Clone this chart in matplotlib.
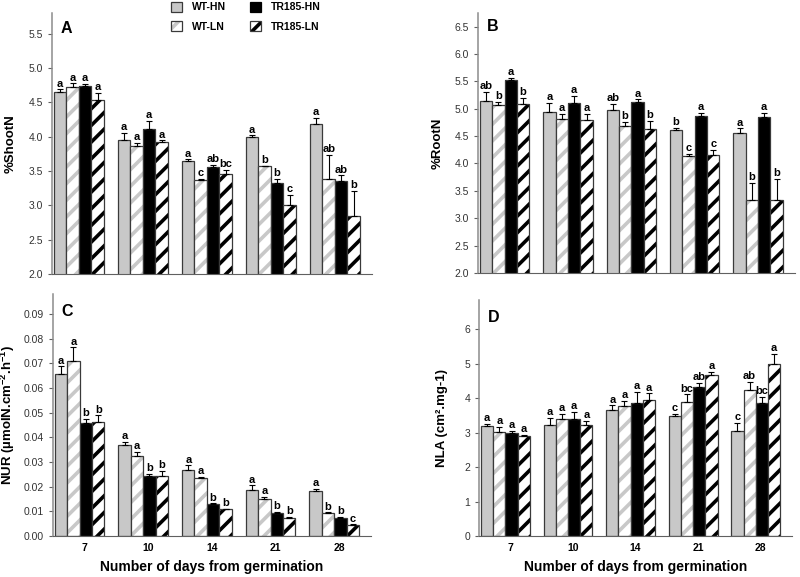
import numpy as np
import matplotlib
matplotlib.use('Agg')
import matplotlib.pyplot as plt
from matplotlib.patches import Patch
from matplotlib.ticker import FormatStrFormatter

plt.rcParams['font.family'] = 'Liberation Sans'
plt.rcParams['mathtext.fontset'] = 'custom'
plt.rcParams['mathtext.rm'] = 'Liberation Sans'
plt.rcParams['mathtext.bf'] = 'Liberation Sans:bold'
plt.rcParams['hatch.linewidth'] = 2.6


## Data (rows: WT-HN, WT-LN, TR185-HN, TR185-LN)
days = ['7', '10', '14', '21', '28']
series = ['WT-HN', 'WT-LN', 'TR185-HN', 'TR185-LN']

shoot_mean = [[4.66, 3.95, 3.65, 3.99, 4.19],
              [4.72, 3.86, 3.37, 3.57, 3.39],
              [4.74, 4.12, 3.56, 3.33, 3.35],
              [4.54, 3.93, 3.46, 3.00, 2.84]]
shoot_err = [[0.03, 0.11, 0.02, 0.03, 0.09],
             [0.06, 0.05, 0.02, 0.01, 0.35],
             [0.03, 0.11, 0.03, 0.06, 0.09],
             [0.10, 0.02, 0.06, 0.15, 0.37]]
shoot_sig = [['a', 'a', 'a', 'a', 'a'],
             ['a', 'a', 'c', 'b', 'ab'],
             ['a', 'a', 'ab', 'b', 'ab'],
             ['a', 'a', 'bc', 'c', 'b']]

root_mean = [[5.15, 4.94, 4.97, 4.62, 4.55],
             [5.06, 4.81, 4.69, 4.13, 3.33],
             [5.52, 5.10, 5.12, 4.87, 4.85],
             [5.09, 4.80, 4.63, 4.16, 3.33]]
root_err = [[0.16, 0.17, 0.12, 0.03, 0.09],
            [0.07, 0.10, 0.07, 0.04, 0.32],
            [0.04, 0.14, 0.05, 0.05, 0.07],
            [0.11, 0.10, 0.15, 0.09, 0.39]]
root_sig = [['ab', 'a', 'ab', 'b', 'a'],
            ['b', 'a', 'b', 'c', 'b'],
            ['a', 'a', 'a', 'a', 'a'],
            ['b', 'a', 'b', 'c', 'b']]

nur_mean = [[0.0658, 0.0368, 0.0267, 0.0186, 0.0181],
            [0.0710, 0.0323, 0.0234, 0.0151, 0.0093],
            [0.0458, 0.0244, 0.0130, 0.0094, 0.0073],
            [0.0463, 0.0245, 0.0108, 0.0075, 0.0044]]
nur_err = [[0.0030, 0.0013, 0.0019, 0.0019, 0.0010],
           [0.0055, 0.0018, 0.0006, 0.0008, 0.0003],
           [0.0016, 0.0008, 0.0003, 0.0004, 0.0005],
           [0.0026, 0.0018, 0.0002, 0.0003, 0.0003]]
nur_sig = [['a', 'a', 'a', 'a', 'a'],
           ['a', 'a', 'a', 'a', 'b'],
           ['b', 'b', 'b', 'b', 'b'],
           ['b', 'b', 'b', 'b', 'c']]

nla_mean = [[3.19, 3.21, 3.67, 3.49, 3.04],
            [3.02, 3.39, 3.76, 3.89, 4.24],
            [2.99, 3.40, 3.87, 4.34, 3.86],
            [2.90, 3.21, 3.94, 4.66, 4.98]]
nla_err = [[0.07, 0.23, 0.12, 0.05, 0.25],
           [0.15, 0.16, 0.16, 0.22, 0.23],
           [0.07, 0.21, 0.31, 0.11, 0.19],
           [0.03, 0.14, 0.20, 0.10, 0.30]]
nla_sig = [['a', 'a', 'a', 'c', 'c'],
           ['a', 'a', 'a', 'bc', 'ab'],
           ['a', 'a', 'a', 'ab', 'bc'],
           ['a', 'a', 'a', 'a', 'a']]

# styles per series
face = ['#c8c8c8', 'white', 'black', 'white']
hatch = [None, '//', None, '//']
hatch_col = [None, '#c8c8c8', None, 'black']
edge = '#3a3a3a'


def panel(ax, mean, err, sig, ylim, yticks, fmt, ylabel, letter, letter_y,
          label_x, bottom):
    x = np.arange(len(days))
    w = 0.195
    for i in range(4):
        pos = x - 0.08 + (i - 1.5) * w
        if hatch[i]:
            ax.bar(pos, mean[i], w, color='white', edgecolor=hatch_col[i],
                   hatch=hatch[i], linewidth=0)
        else:
            ax.bar(pos, mean[i], w, color=face[i], linewidth=0)
        ax.bar(pos, mean[i], w, fill=False, edgecolor=edge, linewidth=0.9)
        ax.errorbar(pos, mean[i], yerr=[np.zeros(len(days)), err[i]],
                    fmt='none', ecolor='black', elinewidth=0.8,
                    capsize=2.2, capthick=0.8)
        for p, m, e, s in zip(pos, mean[i], err[i], sig[i]):
            ax.annotate(s, (p, m + e), xytext=(0, 0.5),
                        textcoords='offset points', ha='center', va='bottom',
                        fontsize=8, fontweight='bold')

    ax.set_xlim(-0.5, 4.5)
    ax.set_ylim(*ylim)
    ax.set_yticks(yticks)
    ax.yaxis.set_major_formatter(FormatStrFormatter(fmt))
    ax.set_xticks(x)
    ax.spines['top'].set_visible(False)
    ax.spines['right'].set_visible(False)
    ax.spines['left'].set_color('#8c8c8c')
    ax.spines['left'].set_linewidth(1.1)
    ax.spines['bottom'].set_color('#606060')
    ax.tick_params(axis='y', direction='out', length=3, width=0.8,
                   color='#606060', labelsize=7.5, labelcolor='#333333')
    ax.tick_params(axis='x', length=0, pad=5)
    if bottom:
        ax.set_xticklabels(days, fontsize=7.5, fontweight='bold')
        ax.set_xlabel('Number of days from germination', fontsize=10,
                      fontweight='bold', labelpad=5)
    else:
        ax.set_xticklabels([])
    ax.set_ylabel(ylabel, fontsize=9.5, fontweight='bold')
    ax.yaxis.set_label_coords(label_x, 0.5)
    ax.text(0.028, letter_y, letter, transform=ax.transAxes, fontsize=11.5,
            fontweight='bold', va='center', ha='left')


fig = plt.figure(figsize=(8, 5.77), dpi=100)
ax_a = fig.add_axes([0.065, 0.525, 0.40, 0.452])
ax_b = fig.add_axes([0.5975, 0.527, 0.396, 0.4506])
ax_c = fig.add_axes([0.066, 0.071, 0.398, 0.419])
ax_d = fig.add_axes([0.599, 0.071, 0.391, 0.409])

panel(ax_a, shoot_mean, shoot_err, shoot_sig, (2.0, 5.8),
      np.arange(2.0, 5.51, 0.5), '%.1f', '%ShootN', 'A', 0.94, -0.112, False)
panel(ax_b, root_mean, root_err, root_sig, (2.0, 6.75),
      np.arange(2.0, 6.51, 0.5), '%.1f', '%RootN', 'B', 0.946, -0.11, False)
panel(ax_c, nur_mean, nur_err, nur_sig, (0, 0.098),
      np.arange(0, 0.0901, 0.01), '%.2f',
      r'NUR (µmolN.cm$^{\mathbf{-2}}$.h$^{\mathbf{-1}}$)', 'C', 0.93,
      -0.113, True)
panel(ax_d, nla_mean, nla_err, nla_sig, (0, 6.85), np.arange(0, 7, 1), '%d',
      'NLA (cm².mg-1)', 'D', 0.928, -0.10, True)

# legend
handles = [Patch(facecolor='#c8c8c8', edgecolor=edge, linewidth=0.9),
           (Patch(facecolor='white', edgecolor='#c8c8c8', hatch='//',
                  linewidth=0),
            Patch(fill=False, edgecolor=edge, linewidth=0.9)),
           Patch(facecolor='black', edgecolor='black', linewidth=0.9),
           (Patch(facecolor='white', edgecolor='black', hatch='//',
                  linewidth=0),
            Patch(fill=False, edgecolor=edge, linewidth=0.9))]
fig.legend(handles, series, loc='upper left', bbox_to_anchor=(0.205, 1.01),
           ncol=2, frameon=False, prop={'weight': 'bold', 'size': 7.5},
           handlelength=1.0, handleheight=1.2, handletextpad=1.0,
           columnspacing=2.3, labelspacing=0.8, borderpad=0.2)

plt.savefig('out.png', dpi=100)
